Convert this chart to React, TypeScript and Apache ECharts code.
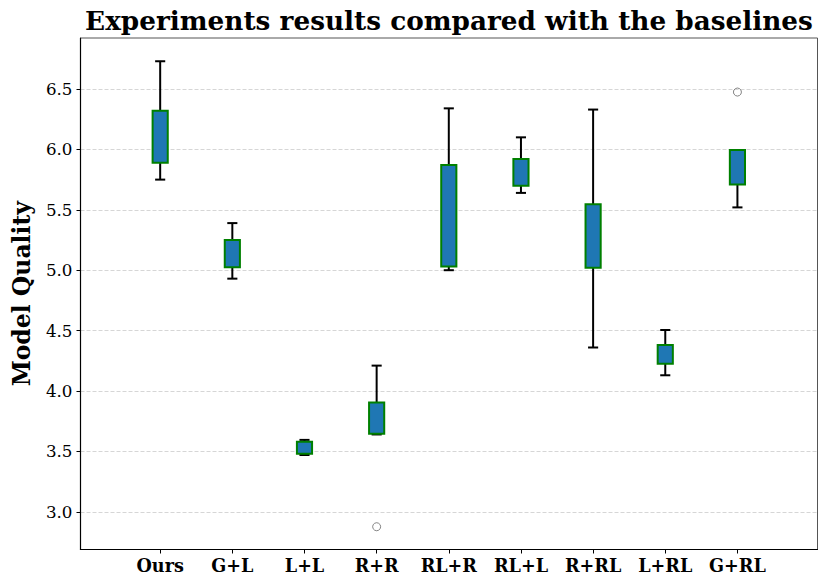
import React, { useEffect, useRef } from "react";
import * as echarts from "echarts";

const categories = ["Ours", "G+L", "L+L", "R+R", "RL+R", "RL+L", "R+RL", "L+RL", "G+RL"];
const whiskerLow = [5.75, 4.93, 3.47, 3.64, 5.0, 5.64, 4.36, 4.13, 5.52];
const q1 = [5.89, 5.025, 3.48, 3.645, 5.03, 5.70, 5.02, 4.225, 5.71];
const q3 = [6.32, 5.25, 3.58, 3.905, 5.87, 5.92, 5.545, 4.38, 5.995];
const whiskerHigh = [6.73, 5.39, 3.595, 4.21, 6.34, 6.10, 6.33, 4.505, 5.995];
const outlierCategories = ["R+R", "G+RL"];
const outlierValues = [2.876, 6.475];
const yTicks = [3.0, 3.5, 4.0, 4.5, 5.0, 5.5, 6.0, 6.5];
const yMin = 2.6875;
const yMax = 6.9225;

const titleText = "Experiments results compared with the baselines";
const yLabelText = "Model Quality";
const FONT = "'DejaVu Serif', serif";

export default function App() {
  const ref = useRef<HTMLDivElement>(null);
  useEffect(() => {
    if (!ref.current) return;
    const chart = echarts.init(ref.current, null, { renderer: "svg" });
    const boxData = categories.map((c, i) => [i, whiskerLow[i], q1[i], q3[i], whiskerHigh[i]]);
    const outlierData = outlierCategories.map((c, k) => [categories.indexOf(c), outlierValues[k]]);

    const renderItem = (params: any, api: any) => {
      const i = api.value(0);
      const lo = api.coord([i, api.value(1)]);
      const b1 = api.coord([i, api.value(2)]);
      const b3 = api.coord([i, api.value(3)]);
      const hi = api.coord([i, api.value(4)]);
      const band = api.size([1, 0])[0];
      const bw = band * 0.21;
      const cw = band * 0.07;
      const cx = lo[0];
      const ls = { stroke: "#000", lineWidth: 2 };
      return {
        type: "group",
        children: [
          { type: "line", shape: { x1: cx, y1: b1[1], x2: cx, y2: lo[1] }, style: ls },
          { type: "line", shape: { x1: cx, y1: b3[1], x2: cx, y2: hi[1] }, style: ls },
          { type: "line", shape: { x1: cx - cw, y1: lo[1], x2: cx + cw, y2: lo[1] }, style: ls },
          { type: "line", shape: { x1: cx - cw, y1: hi[1], x2: cx + cw, y2: hi[1] }, style: ls },
          {
            type: "rect",
            shape: { x: cx - bw / 2, y: b3[1], width: bw, height: b1[1] - b3[1] },
            style: { fill: "#1f77b4", stroke: "#008000", lineWidth: 2 },
          },
        ],
      };
    };

    chart.setOption({
      animation: false,
      backgroundColor: "#fff",
      grid: [
        { left: 80.5, right: 12.5, top: 38, bottom: 37.5, show: true, borderColor: "#555", borderWidth: 1, backgroundColor: "transparent" },
        { left: 124.1, right: 56.5, top: 38, bottom: 37.5 },
      ],
      xAxis: [
        {
          type: "value", gridIndex: 0, min: 0, max: 1,
          axisLine: { show: true, lineStyle: { color: "#000", width: 1.2 } },
          axisTick: { show: false }, axisLabel: { show: false }, splitLine: { show: false },
        },
        {
          type: "category", gridIndex: 1, data: categories, boundaryGap: true,
          axisLine: { show: false },
          axisTick: { show: true, interval: 0, alignWithLabel: true, length: 4, lineStyle: { color: "#000", width: 1 } },
          axisLabel: { interval: 0, color: "#000", fontFamily: FONT, fontWeight: "bold", fontSize: 17.6, margin: 7 },
          splitLine: { show: false },
        },
      ],
      yAxis: [
        {
          type: "value", gridIndex: 0, min: yMin, max: yMax,
          axisLine: { show: true, lineStyle: { color: "#000", width: 1.2 } },
          axisTick: { show: true, length: 4, customValues: yTicks, lineStyle: { color: "#000", width: 1 } },
          axisLabel: {
            customValues: yTicks, color: "#000", fontFamily: FONT, fontSize: 16.7, margin: 8,
            formatter: (v: number) => v.toFixed(1),
          },
          splitLine: { show: true, lineStyle: { color: "#cccccc", width: 0.8, type: [4, 2] } },
        },
        {
          type: "value", gridIndex: 1, min: yMin, max: yMax, show: false,
          splitLine: { show: false },
        },
      ],
      graphic: [
        {
          type: "text", x: 449, y: 20, z: 10,
          style: { text: titleText, font: `bold 26.3px ${FONT}`, fill: "#000", textAlign: "center", textVerticalAlign: "middle" },
        },
        {
          type: "text", x: 22, y: 293.7, rotation: Math.PI / 2, z: 10,
          style: { text: yLabelText, font: `bold 23.5px ${FONT}`, fill: "#000", textAlign: "center", textVerticalAlign: "middle" },
        },
      ],
      series: [
        {
          type: "custom", xAxisIndex: 1, yAxisIndex: 1, data: boxData,
          encode: { x: 0, y: [1, 2, 3, 4] }, renderItem, clip: false,
        },
        {
          type: "scatter", xAxisIndex: 1, yAxisIndex: 1, data: outlierData,
          symbol: "circle", symbolSize: 8,
          itemStyle: { color: "transparent", borderColor: "#666", borderWidth: 1 },
        },
      ],
    });
    return () => chart.dispose();
  }, []);
  return <div ref={ref} style={{ position: "absolute", left: 0, top: 0, width: 830, height: 587 }} />;
}
